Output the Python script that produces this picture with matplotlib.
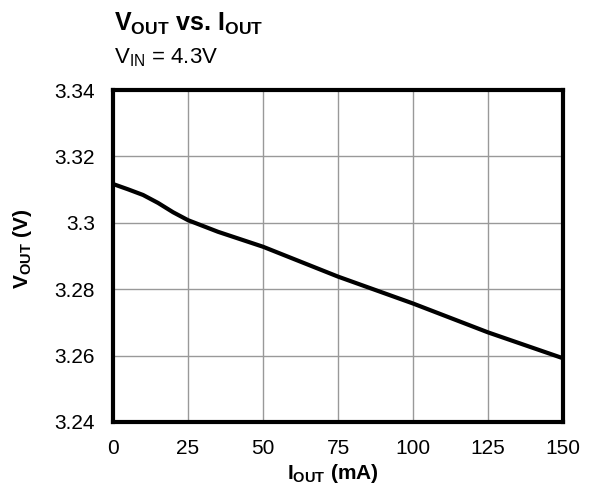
import matplotlib
matplotlib.use("Agg")
import matplotlib.pyplot as plt

plt.rcParams['font.family'] = ['Liberation Sans', 'DejaVu Sans']
plt.rcParams['mathtext.fontset'] = 'custom'
plt.rcParams['mathtext.rm'] = 'Liberation Sans'
plt.rcParams['mathtext.bf'] = 'Liberation Sans:bold'

# data
i_out = [0, 5, 10, 15, 20, 25, 35, 50, 75, 100, 125, 150]
v_out = [3.3117, 3.3101, 3.3084, 3.3060, 3.3032, 3.3008, 3.2973, 3.2928, 3.2838, 3.2757, 3.2670, 3.2592]
x_ticks = [0, 25, 50, 75, 100, 125, 150]
y_ticks = [3.24, 3.26, 3.28, 3.30, 3.32, 3.34]
y_labels = ['3.24', '3.26', '3.28', '3.3', '3.32', '3.34']

fig = plt.figure(figsize=(5.92, 4.87), dpi=100)
ax = fig.add_axes([0.191, 0.1335, 0.76, 0.6815])

ax.plot(i_out, v_out, color='black', linewidth=3, solid_capstyle='butt', zorder=3)

ax.set_xlim(0, 150)
ax.set_ylim(3.24, 3.34)
ax.set_xticks(x_ticks)
ax.set_yticks(y_ticks)
ax.set_yticklabels(y_labels)
ax.tick_params(length=0, labelsize=15)
ax.tick_params(axis='y', pad=13)
ax.tick_params(axis='x', pad=12)
ax.grid(True, color='#999999', linewidth=1)
ax.set_axisbelow(True)
for s in ax.spines.values():
    s.set_linewidth(3)
    s.set_color('black')

# axis labels placed on the figure
fig.text(333 / 592, 0.016, r'$\mathbf{I_{OUT}}$ (mA)', fontsize=15, fontweight='bold',
         ha='center', va='baseline')
fig.text(22 / 592, 0.489, r'$\mathbf{V_{OUT}}$ (V)', fontsize=15, fontweight='bold',
         ha='center', va='center', rotation=90)

fig.text(114 / 592, 0.936, r'$\mathbf{V_{OUT}}$ vs. $\mathbf{I_{OUT}}$', fontsize=18,
         fontweight='bold', va='baseline')
fig.text(114 / 592, 0.869, r'$\mathrm{V_{IN}}$ = 4.3V', fontsize=16, va='baseline')

fig.savefig('out.png', dpi=100)
